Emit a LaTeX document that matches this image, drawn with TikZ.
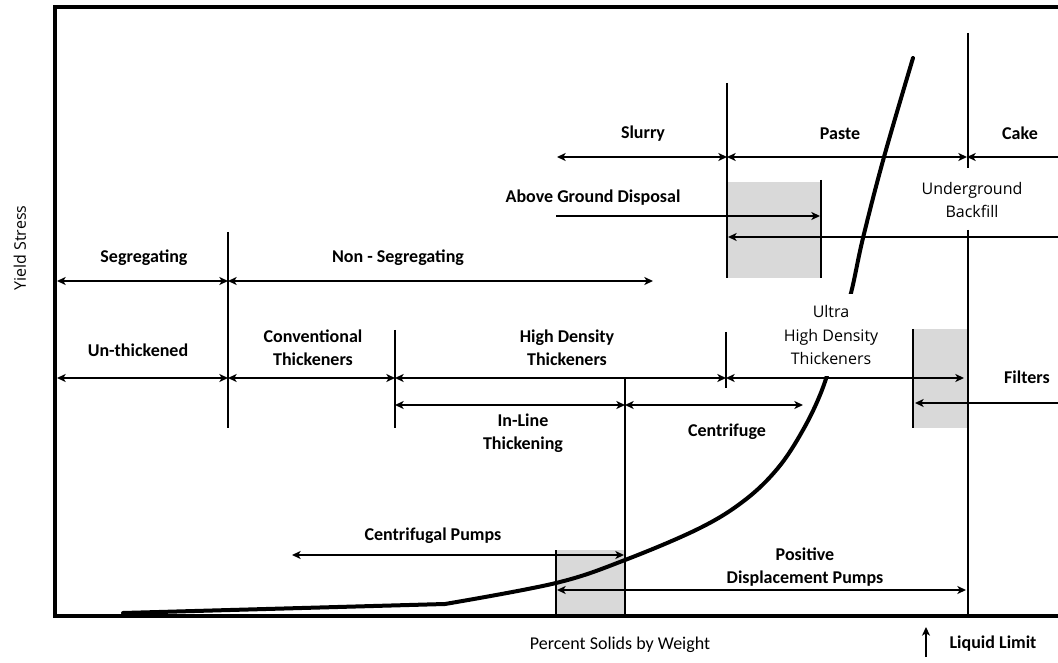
\documentclass[tikz,border=0pt]{standalone}
\usepackage{fontspec}
\setmainfont{Carlito}
\newfontfamily\opensans{Open Sans}
\usetikzlibrary{arrows.meta}
\tikzset{
  axisLn/.style={line width=2.3pt,line cap=rect},
  divLn/.style={line width=1.1pt},
  rng/.style={line width=1.1pt,>={Stealth[length=6.5pt,width=6pt,inset=1.8pt]}},
  rngBold/.style={rng,line width=1.8pt},
  zone/.style={fill=black!15,draw=none},
  yCurve/.style={line width=3pt,line cap=round,line join=round},
  bLbl/.style={font=\fontsize{13.5}{17}\selectfont\bfseries,align=center,inner sep=1pt},
  rLbl/.style={font=\opensans\fontsize{12}{17.5}\selectfont,align=center,inner sep=1pt},
}

\begin{document}
\begin{tikzpicture}[x=0.75pt,y=-0.75pt]
\useasboundingbox (0,0) rectangle (1058,663);
% shaded overlap zones
\fill[zone] (728,182) rectangle (820,278);
\fill[zone] (913,329) rectangle (967,428);
\fill[zone] (556,550) rectangle (625,616);
% frame
\draw[axisLn] (1058,7) -- (55,7) -- (55,616) -- (1058,616);
% dividers
\draw[divLn] (228,232) -- (228,428);
\draw[divLn] (395,330) -- (395,428);
\draw[divLn] (727,83) -- (727,278);
\draw[divLn] (726,332) -- (726,388);
\draw[divLn] (821,180) -- (821,278);
\draw[divLn] (968,33) -- (968,168);
\draw[divLn] (968,230) -- (968,616);
\draw[divLn] (913,329) -- (913,428);
\draw[divLn] (625,378) -- (625,616);
\draw[divLn] (556,550) -- (556,616);
% yield stress curve
\draw[yCurve] (123,613) -- plot[smooth,tension=.6] coordinates
  {(445,604) (556,583) (625,560) (700,528) (745,500) (778,468) (803,430)
   (822,390) (836,345) (851,293) (863,238) (884,157) (913,58)};

% range end points
\coordinate (slA) at (557,157);
\coordinate (slB) at (727,157);
\coordinate (paB) at (967,157);
\coordinate (caB) at (1058,157);
\coordinate (agA) at (556,216);
\coordinate (agB) at (820,216);
\coordinate (ubA) at (728,237);
\coordinate (ubB) at (1058,237);
\coordinate (sgA) at (57,281);
\coordinate (sgB) at (228,281);
\coordinate (nsB) at (653,281);
\coordinate (utA) at (57,378);
\coordinate (utB) at (228,378);
\coordinate (ctB) at (395,378);
\coordinate (hdB) at (726,378);
\coordinate (uhM) at (913,378);
\coordinate (uhB) at (964,378);
\coordinate (fiA) at (915,403);
\coordinate (fiB) at (1058,403);
\coordinate (ilA) at (395,405);
\coordinate (ilB) at (625,405);
\coordinate (cfB) at (803,405);
\coordinate (cpA) at (292,555);
\coordinate (cpB) at (624,555);
\coordinate (pdA) at (557,590);
\coordinate (pdB) at (966,590);
\coordinate (llA) at (926,657);
\coordinate (llB) at (926,627);

% ranges
\draw[rngBold,<->] (slA) -- (slB);
\draw[rngBold,<->] (slB) -- (paB);
\draw[rngBold,<-] (paB) -- (caB);
\draw[rng,->] (agA) -- (agB);
\draw[rng,<-] (ubA) -- (ubB);
\draw[rng,<->] (sgA) -- (sgB);
\draw[rng,<->] (sgB) -- (nsB);
\draw[rng,<->] (utA) -- (utB);
\draw[rng,<->] (utB) -- (ctB);
\draw[rng,<->] (ctB) -- (hdB);
\draw[rngBold,<-] (hdB) -- (uhM);
\draw[rng,->] (uhM) -- (uhB);
\draw[rng,<-] (fiA) -- (fiB);
\draw[rng,<->] (ilA) -- (ilB);
\draw[rng,<->] (ilB) -- (cfB);
\draw[rng,<->] (cpA) -- (cpB);
\draw[rng,<->] (pdA) -- (pdB);
\draw[rng,->] (llA) -- (llB);

% labels
\node[bLbl] (slurry) at (643,134) {Slurry};
\node[bLbl] (paste) at (840,134) {Paste};
\node[bLbl] (cake) at (1020,133) {Cake};
\node[rLbl] (backfill) at (972,200) {Underground\\Backfill};
\node[bLbl] (above) at (593,198) {Above Ground Disposal};
\node[bLbl] (seg) at (144,258) {Segregating};
\node[bLbl] (nonseg) at (398,258) {Non - Segregating};
\node[bLbl] (unthick) at (138,350) {Un-thickened};
\node[bLbl] (conv) at (313,348) {Conventional\\Thickeners};
\node[bLbl] (hdt) at (567,348) {High Density\\Thickeners};
\node[rLbl,fill=white,inner xsep=4pt,minimum height=61pt] (uhdt) at (831,335) {Ultra\\High Density\\Thickeners};
\node[bLbl] (filters) at (1027,377) {Filters};
\node[bLbl] (inline) at (523,433) {In-Line\\Thickening};
\node[bLbl] (centri) at (727,432) {Centrifuge};
\node[bLbl] (cpumps) at (433,536) {Centrifugal Pumps};
\node[bLbl] (pdpumps) at (805,567) {Positive\\Displacement Pumps};
\node[font=\fontsize{13.5}{16}\selectfont] (xlab) at (620,645) {Percent Solids by Weight};
\node[bLbl,anchor=west] (liqlim) at (948,644) {Liquid Limit};
\node[font=\opensans\fontsize{12}{14}\selectfont,rotate=90] (ylab) at (20,248) {Yield Stress};
\end{tikzpicture}
\end{document}
